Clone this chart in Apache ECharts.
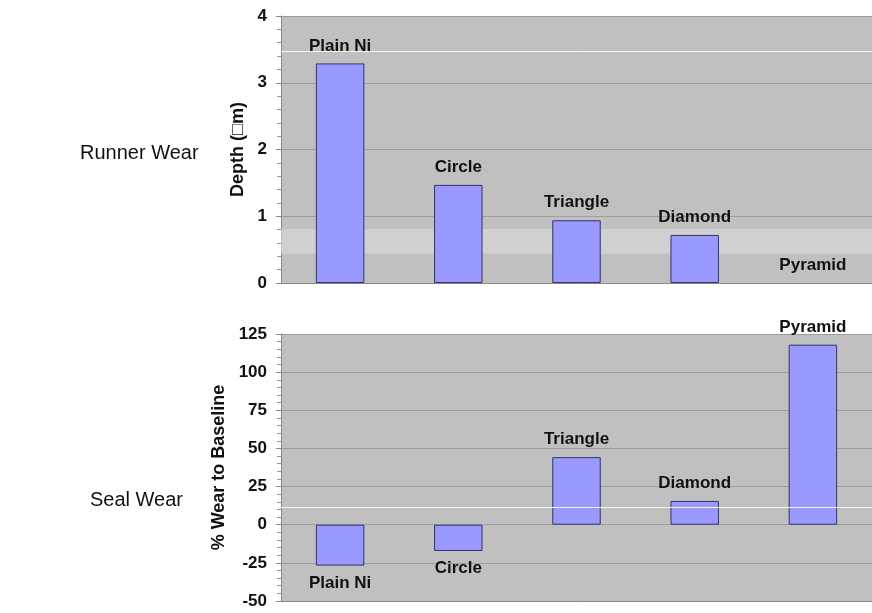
<!DOCTYPE html>
<html><head><meta charset="utf-8">
<script src="https://cdn.jsdelivr.net/npm/echarts@6/dist/echarts.min.js"></script>
<style>html,body{margin:0;padding:0;background:#fff}#c{width:872px;height:613px}</style>
</head><body><div id="c"></div>
<script>
const categories = ['Plain Ni', 'Circle', 'Triangle', 'Diamond', 'Pyramid'];
const runnerDepth = [3.29, 1.47, 0.94, 0.72, 0];
const sealWear = [-26.8, -17.2, 44.3, 15.6, 118];
const runnerTicks = [0, 1, 2, 3, 4];
const sealTicks = [-50, -25, 0, 25, 50, 75, 100, 125];

const chart = echarts.init(document.getElementById('c'));
const F = 'Liberation Sans, Arial, sans-serif';
const barStyle = { color: '#9999ff', borderColor: '#333366', borderWidth: 1 };
const labelStyle = { show: true, formatter: p => categories[p.dataIndex], fontFamily: F, fontWeight: 'bold', fontSize: 17, color: '#111', distance: 9 };
function yAxis(idx, min, max, interval, name, gap) {
  return {
    type: 'value', gridIndex: idx, min: min, max: max, interval: interval,
    name: name, nameLocation: 'middle', nameGap: gap,
    nameTextStyle: { fontFamily: F, fontWeight: 'bold', fontSize: 18, color: '#111' },
    axisLine: { show: true, lineStyle: { color: '#888' } },
    axisTick: { show: true, length: 5, lineStyle: { color: '#888' } },
    minorTick: { show: true, splitNumber: 5, length: 4, lineStyle: { color: '#999' } },
    axisLabel: { fontFamily: F, fontWeight: 'bold', fontSize: 17, color: '#111', margin: 14 },
    splitLine: { show: true, lineStyle: { color: '#9e9e9e', width: 1 } }
  };
}
function xAxis(idx) {
  return {
    type: 'category', gridIndex: idx, data: categories,
    axisLine: { show: true, onZero: false, lineStyle: { color: '#8a8a8a' } },
    axisTick: { show: false }, axisLabel: { show: false }
  };
}
chart.setOption({
  animation: false,
  title: [
    { text: 'Runner Wear', left: 75, top: 138, textStyle: { fontFamily: F, fontWeight: 'normal', fontSize: 20, color: '#111' } },
    { text: 'Seal Wear', left: 85, top: 485, textStyle: { fontFamily: F, fontWeight: 'normal', fontSize: 20, color: '#111' } }
  ],
  grid: [
    { left: 281, top: 16, height: 267, width: 598, backgroundColor: '#c0c0c0', show: true, borderWidth: 0 },
    { left: 281, top: 334, height: 267, width: 598, backgroundColor: '#c0c0c0', show: true, borderWidth: 0 }
  ],
  xAxis: [xAxis(0), xAxis(1)],
  yAxis: [
    yAxis(0, runnerTicks[0], runnerTicks[runnerTicks.length - 1], 1, 'Depth (\u25A1m)', 33),
    yAxis(1, sealTicks[0], sealTicks[sealTicks.length - 1], 25, '% Wear to Baseline', 53)
  ],
  series: [
    {
      type: 'bar', xAxisIndex: 0, yAxisIndex: 0, barWidth: '41%',
      data: runnerDepth.map(v => ({ value: v, itemStyle: v === 0 ? { borderWidth: 0 } : {} })),
      itemStyle: barStyle, label: Object.assign({ position: 'top' }, labelStyle),
      markArea: { silent: true, itemStyle: { color: 'rgba(215,215,215,0.7)' }, data: [[{ yAxis: 0.44 }, { yAxis: 0.81 }]] },
      markLine: { silent: true, symbol: 'none', label: { show: false }, lineStyle: { color: '#f4f4f4', type: 'solid', width: 1 }, data: [{ yAxis: 3.47 }] }
    },
    {
      type: 'bar', xAxisIndex: 1, yAxisIndex: 1, barWidth: '41%', itemStyle: barStyle,
      data: sealWear.map(v => ({ value: v, label: Object.assign({}, labelStyle, { position: v < 0 ? 'bottom' : 'top' }) })),
      markLine: { silent: true, symbol: 'none', label: { show: false }, lineStyle: { color: '#f4f4f4', type: 'solid', width: 1 }, data: [{ yAxis: 11.7 }] }
    }
  ]
});
</script></body></html>
